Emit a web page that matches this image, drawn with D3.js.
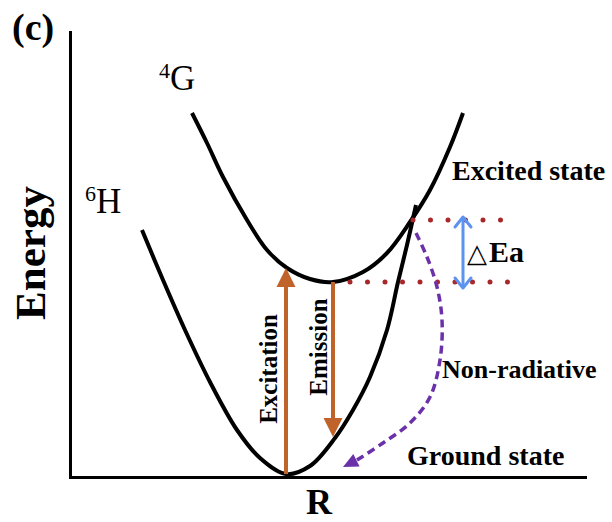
<!DOCTYPE html>
<html>
<head>
<meta charset="utf-8">
<script src="https://cdn.jsdelivr.net/npm/d3@7"></script>
<style>
  body { margin: 0; background: #fff; }
  text { font-family: "Liberation Serif", "Times New Roman", serif; }
</style>
</head>
<body>
<svg id="chart" width="612" height="522"></svg>
<script>
// Configuration-coordinate diagram: energy vs. R (arbitrary units)
const groundR  = [14.4, 18.6, 23.0, 28.0, 33.4, 38.0, 43.2, 48.0, 53.0, 56.6, 60.0, 63.4, 65.6, 67.4, 69.2];
const groundE  = [49.4, 39.4, 29.4, 19.0,  9.4,  3.8,  0.6,  2.2,  7.8, 13.4, 20.0, 29.4, 39.0, 46.4, 54.4];
const excitedR = [24.4, 27.4, 30.6, 35.4, 39.4, 43.4, 48.0, 52.6, 58.6, 63.4, 68.0, 72.0, 76.0, 78.6];
const excitedE = [72.8, 66.8, 60.0, 51.4, 45.4, 41.8, 39.6, 39.0, 41.0, 44.8, 51.0, 57.4, 66.0, 72.8];

// Non-radiative relaxation path (crossing point back down to the ground state)
const nonRadR = [69.2, 71.4, 73.4, 74.4, 74.0, 72.0, 68.0, 62.6, 57.4];
const nonRadE = [48.8, 44.0, 38.0, 31.4, 23.4, 16.0, 10.8,  6.8,  3.4];
const nonRadTip = [54.6, 2.0];

// Vertical transitions: [R, start E, end E]
const transitionNames = ["Excitation", "Emission"];
const transitionR     = [43.2, 52.6];
const transitionFrom  = [0.6, 39.0];
const transitionTo    = [41.8, 8.0];

// Energy levels bounding the activation barrier
const levelE    = [39.0, 51.4];
const levelR0   = [56.0, 68.6];
const levelR1   = [87.6, 86.4];
const barrierR  = 78.6;
const barrierE  = [37.8, 52.0];

const svg = d3.select("#chart");
const x = d3.scaleLinear().domain([0, 103]).range([70, 585]);
const y = d3.scaleLinear().domain([0, 89]).range([477, 32]);

// Axes (no ticks)
const yAxis = svg.append("g").attr("transform", "translate(70,0)")
  .call(d3.axisLeft(y).tickValues([]).tickSizeOuter(0));
const xAxis = svg.append("g").attr("transform", "translate(0,477)")
  .call(d3.axisBottom(x).tickValues([]).tickSizeOuter(0));
[yAxis, xAxis].forEach(g => g.select(".domain")
  .attr("stroke", "#000").attr("stroke-width", 3).attr("stroke-linecap", "square"));

const line = d3.line().x(d => x(d[0])).y(d => y(d[1])).curve(d3.curveCatmullRom.alpha(0.5));

// Potential curves
[[groundR, groundE], [excitedR, excitedE]].forEach(([rs, es]) => {
  svg.append("path")
    .attr("d", line(rs.map((r, i) => [r, es[i]])))
    .attr("fill", "none").attr("stroke", "#000").attr("stroke-width", 4)
    .attr("stroke-linecap", "butt");
});

// Dotted energy levels
levelE.forEach((e, i) => {
  svg.append("line")
    .attr("x1", x(levelR0[i])).attr("x2", x(levelR1[i]))
    .attr("y1", y(e)).attr("y2", y(e))
    .attr("stroke", "#a8282a").attr("stroke-width", 5)
    .attr("stroke-linecap", "round").attr("stroke-dasharray", "0 17.5");
});

function headPoints(tx, ty, dx, dy, len, wid) {
  const n = Math.hypot(dx, dy); dx /= n; dy /= n;
  const bx = tx - dx * len, by = ty - dy * len;
  const px = -dy * wid / 2, py = dx * wid / 2;
  return [[tx, ty], [bx + px, by + py], [bx - px, by - py]];
}

// Excitation / emission arrows
const orange = "#c0632a";
transitionR.forEach((r, i) => {
  const xs = x(r), y0 = y(transitionFrom[i]), y1 = y(transitionTo[i]);
  const dir = Math.sign(y1 - y0);
  svg.append("line")
    .attr("x1", xs).attr("x2", xs).attr("y1", y0).attr("y2", y1 - dir * 17)
    .attr("stroke", orange).attr("stroke-width", 4);
  svg.append("polygon")
    .attr("points", headPoints(xs, y1, 0, dir, 19, 19).join(" "))
    .attr("fill", orange);
});

// Transition labels (rotated)
const transLabelPos = [[277, 369], [327, 347]];
transitionNames.forEach((t, i) => {
  svg.append("text")
    .attr("transform", `translate(${transLabelPos[i][0]},${transLabelPos[i][1]}) rotate(-90)`)
    .attr("text-anchor", "middle").attr("font-weight", "bold").attr("font-size", 25)
    .attr("fill", "#000").text(t);
});

// Activation barrier double arrow
const blue = "#5b93ee";
const bx = x(barrierR), bTop = y(barrierE[1]), bBot = y(barrierE[0]);
svg.append("line").attr("x1", bx).attr("x2", bx).attr("y1", bTop).attr("y2", bBot)
  .attr("stroke", blue).attr("stroke-width", 3);
[[bTop, 1], [bBot, -1]].forEach(([ty, s]) => {
  svg.append("path")
    .attr("d", `M${bx - 8},${ty + s * 10}L${bx},${ty}L${bx + 8},${ty + s * 10}`)
    .attr("fill", "none").attr("stroke", blue).attr("stroke-width", 3)
    .attr("stroke-linecap", "round").attr("stroke-linejoin", "round");
});

// Non-radiative path
const purple = "#6a31a8";
const nrPts = nonRadR.map((r, i) => [r, nonRadE[i]]);
svg.append("path").attr("d", line(nrPts))
  .attr("fill", "none").attr("stroke", purple).attr("stroke-width", 3.5)
  .attr("stroke-dasharray", "8 5");
const last = nrPts[nrPts.length - 1];
const tipX = x(nonRadTip[0]), tipY = y(nonRadTip[1]);
svg.append("polygon")
  .attr("points", headPoints(tipX, tipY, tipX - x(last[0]), tipY - y(last[1]), 15, 14).join(" "))
  .attr("fill", purple);

// Text labels
function label(txt, px, py, size, weight, anchor) {
  return svg.append("text").attr("x", px).attr("y", py)
    .attr("font-size", size).attr("font-weight", weight || "normal")
    .attr("text-anchor", anchor || "start").attr("fill", "#000").text(txt);
}
label("(c)", 12, 40, 38, "bold");
label("Excited state", 452, 180, 28, "bold");
label("Non-radiative", 442, 378, 26, "bold");
label("Ground state", 407, 465, 28, "bold");
label("R", 319, 514, 36, "bold", "middle");

const dEa = svg.append("text").attr("x", 467).attr("y", 262).attr("fill", "#000");
dEa.append("tspan").attr("font-size", 26).text("\u25B3");
dEa.append("tspan").attr("font-size", 30).attr("font-weight", "bold").attr("dx", 2).text("Ea");

svg.append("text")
  .attr("transform", "translate(45,253) rotate(-90)")
  .attr("text-anchor", "middle").attr("font-size", 43).attr("font-weight", "bold")
  .attr("fill", "#000").text("Energy");

// Term symbols
const termLabels = [["4", "G", 159, 90], ["6", "H", 85, 213]];
termLabels.forEach(([sup, sym, px, py]) => {
  const t = svg.append("text").attr("x", px).attr("y", py).attr("fill", "#000");
  t.append("tspan").attr("font-size", 22).attr("dy", -12).text(sup);
  t.append("tspan").attr("font-size", 35).attr("dy", 12).text(sym);
});
</script>
</body>
</html>
